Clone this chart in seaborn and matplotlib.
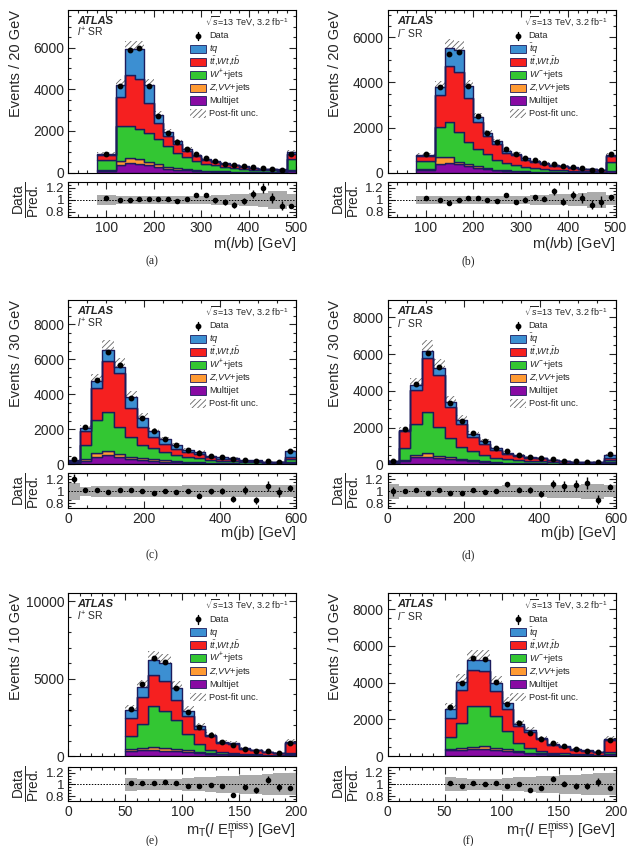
import numpy as np
import pandas as pd
import matplotlib
matplotlib.use("Agg")
import matplotlib.pyplot as plt
from matplotlib.patches import Rectangle
from matplotlib.ticker import AutoMinorLocator, FixedLocator
import seaborn as sns

# ---------------- data ----------------
# (a) l+ SR, m(lvb), 20 GeV bins (first bin 80-120)
a_edges = [80, 120, 140, 160, 180, 200, 220, 240, 260, 280, 300,
           320, 340, 360, 380, 400, 420, 440, 460, 480, 500]
a_multijet = [90, 370, 450, 420, 370, 280, 200, 150, 110, 80, 60, 50, 40, 30, 25, 20, 15, 14, 12, 70]
a_zvv = [40, 190, 240, 220, 160, 120, 80, 60, 45, 35, 30, 25, 20, 15, 12, 10, 8, 8, 7, 40]
a_wjets = [480, 1700, 1570, 1470, 1360, 1200, 1000, 750, 580, 440, 340, 290, 230, 200, 160, 120, 90, 88, 78, 540]
a_ttbar = [250, 1390, 2400, 2370, 1470, 780, 480, 420, 320, 230, 190, 170, 135, 115, 95, 72, 54, 52, 46, 270]
a_tq = [40, 560, 1260, 1440, 850, 390, 190, 120, 85, 65, 50, 45, 35, 30, 23, 18, 13, 13, 12, 60]
a_data = [900, 4150, 5880, 5980, 4180, 2740, 1920, 1470, 1150, 920, 720, 580, 440, 360, 310, 260, 210, 180, 140, 880]
a_ratio = [1.03, 0.99, 0.99, 1.01, 1.01, 1.01, 1.01, 0.98, 1.01, 1.08, 1.08, 0.99, 0.96, 0.92, 0.98, 1.10, 1.19, 1.03, 0.90, 0.89]
a_unc = [0.08, 0.07, 0.07, 0.07, 0.07, 0.07, 0.07, 0.07, 0.07, 0.07, 0.07, 0.08, 0.08, 0.09, 0.10, 0.11, 0.12, 0.15, 0.15, 0.10]

# (b) l- SR, m(lvb)
b_edges = a_edges
b_multijet = [120, 400, 430, 370, 280, 220, 150, 110, 80, 60, 45, 40, 35, 28, 24, 20, 16, 13, 10, 60]
b_zvv = [40, 300, 270, 100, 100, 60, 40, 30, 25, 20, 15, 12, 10, 8, 7, 6, 5, 4, 4, 20]
b_wjets = [360, 1330, 1550, 1330, 980, 790, 625, 440, 340, 275, 190, 150, 125, 100, 90, 70, 55, 47, 38, 400]
b_ttbar = [220, 1410, 2450, 2640, 1930, 1180, 800, 680, 440, 415, 330, 280, 235, 170, 155, 120, 94, 79, 63, 240]
b_tq = [60, 340, 810, 1000, 540, 230, 145, 130, 95, 75, 60, 48, 40, 29, 24, 19, 15, 12, 10, 70]
b_data = [815, 3780, 5240, 5360, 3850, 2530, 1760, 1380, 1050, 820, 640, 550, 450, 380, 290, 250, 190, 140, 120, 815]
b_ratio = [1.03, 1.00, 0.95, 1.00, 1.03, 1.03, 1.00, 0.98, 1.08, 0.97, 1.00, 1.04, 1.02, 1.14, 0.97, 1.08, 1.03, 0.92, 0.97, 1.04]
b_unc = [0.07, 0.07, 0.07, 0.07, 0.07, 0.07, 0.07, 0.07, 0.07, 0.07, 0.07, 0.08, 0.08, 0.09, 0.09, 0.10, 0.11, 0.13, 0.13, 0.08]

# (c) l+ SR, m(jb), 30 GeV bins
c_edges = [0, 30, 60, 90, 120, 150, 180, 210, 240, 270, 300,
           330, 360, 390, 420, 450, 480, 510, 540, 570, 600]
c_multijet = [60, 200, 440, 530, 400, 290, 250, 190, 160, 120, 90, 80, 55, 45, 40, 28, 25, 18, 17, 90]
c_zvv = [10, 80, 230, 230, 170, 150, 90, 100, 70, 50, 40, 35, 25, 20, 15, 12, 10, 7, 7, 30]
c_wjets = [80, 820, 1860, 2250, 1580, 1140, 760, 620, 470, 370, 290, 250, 180, 145, 130, 90, 85, 57, 55, 170]
c_ttbar = [50, 800, 1810, 2910, 3050, 1620, 1050, 670, 470, 360, 260, 225, 150, 120, 105, 72, 65, 45, 44, 150]
c_tq = [40, 200, 420, 610, 380, 630, 520, 320, 270, 200, 150, 130, 90, 70, 65, 43, 40, 28, 27, 300]
c_data = [290, 2110, 4800, 6420, 5660, 3810, 2630, 1900, 1430, 1090, 840, 670, 500, 400, 310, 250, 190, 170, 150, 780]
c_ratio = [1.21, 1.03, 1.02, 0.99, 1.02, 1.03, 1.00, 0.98, 1.01, 0.99, 1.01, 0.93, 1.00, 1.00, 0.87, 1.03, 0.85, 1.09, 0.99, 1.06]
c_unc = [0.14, 0.08, 0.09, 0.09, 0.09, 0.09, 0.09, 0.09, 0.09, 0.09, 0.10, 0.10, 0.10, 0.10, 0.10, 0.10, 0.10, 0.10, 0.10, 0.10]

# (d) l- SR, m(jb)
d_edges = c_edges
d_multijet = [50, 180, 380, 420, 350, 290, 240, 160, 120, 85, 60, 50, 40, 35, 24, 18, 15, 13, 15, 90]
d_zvv = [10, 70, 150, 180, 120, 90, 50, 50, 40, 30, 20, 17, 14, 12, 8, 6, 5, 4, 5, 20]
d_wjets = [70, 640, 1680, 2250, 1560, 1060, 640, 490, 370, 255, 185, 150, 120, 106, 70, 54, 44, 37, 44, 130]
d_ttbar = [40, 920, 1830, 2960, 2830, 1680, 1280, 770, 600, 410, 295, 238, 188, 170, 110, 85, 68, 58, 68, 130]
d_tq = [30, 70, 270, 380, 400, 280, 230, 180, 140, 100, 75, 60, 48, 42, 28, 22, 18, 15, 18, 160]
d_data = [200, 1900, 4400, 6050, 5280, 3340, 2370, 1700, 1260, 880, 710, 530, 420, 350, 270, 200, 165, 145, 130, 570]
d_ratio = [1.00, 1.00, 1.03, 0.98, 1.02, 0.98, 0.97, 1.03, 0.99, 1.00, 1.12, 1.03, 1.03, 0.96, 1.12, 1.09, 1.10, 1.14, 0.86, 1.08]
d_unc = [0.12, 0.09, 0.09, 0.09, 0.09, 0.09, 0.09, 0.09, 0.09, 0.09, 0.10, 0.10, 0.10, 0.10, 0.11, 0.11, 0.11, 0.12, 0.13, 0.10]

# (e) l+ SR, mT(l Etmiss), 10 GeV bins
e_edges = [50, 60, 70, 80, 90, 100, 110, 120, 130, 140, 150, 160, 170, 180, 190, 200]
e_multijet = [320, 370, 370, 340, 300, 260, 200, 140, 100, 80, 55, 45, 32, 25, 80]
e_zvv = [150, 170, 210, 200, 170, 110, 60, 40, 25, 20, 12, 10, 8, 6, 20]
e_wjets = [800, 1550, 2620, 2360, 1830, 1030, 500, 185, 135, 110, 70, 55, 40, 32, 90]
e_ttbar = [1200, 1720, 2000, 1920, 1330, 1160, 970, 900, 590, 580, 320, 245, 180, 145, 680]
e_tq = [480, 640, 970, 1180, 760, 340, 180, 105, 70, 60, 38, 30, 20, 17, 55]
e_data = [3050, 4620, 6320, 6090, 4390, 2840, 1870, 1355, 900, 690, 470, 345, 300, 215, 860]
e_ratio = [1.02, 1.03, 1.02, 1.04, 1.02, 0.98, 0.98, 0.99, 0.98, 0.81, 0.95, 0.90, 1.08, 0.95, 0.93]
e_unc = [0.11, 0.10, 0.10, 0.10, 0.10, 0.11, 0.12, 0.13, 0.14, 0.15, 0.16, 0.17, 0.18, 0.19, 0.19]

# (f) l- SR, mT(l Etmiss)
f_edges = e_edges
f_multijet = [330, 330, 360, 360, 330, 270, 200, 150, 110, 75, 60, 42, 34, 26, 90]
f_zvv = [70, 100, 150, 180, 120, 130, 60, 40, 30, 18, 14, 10, 8, 6, 20]
f_wjets = [650, 1380, 2200, 2210, 1720, 960, 450, 220, 140, 90, 70, 50, 40, 30, 110]
f_ttbar = [1030, 1770, 1990, 1870, 1360, 1210, 900, 880, 620, 420, 350, 235, 195, 147, 630]
f_tq = [500, 460, 550, 630, 430, 330, 160, 120, 80, 52, 41, 30, 23, 17, 65]
f_data = [2660, 3960, 5360, 5300, 4040, 2840, 1790, 1270, 920, 720, 540, 360, 290, 235, 850]
f_ratio = [1.03, 0.98, 1.02, 1.01, 1.02, 0.98, 1.01, 0.90, 0.94, 1.10, 1.01, 0.98, 0.97, 1.04, 0.93]
f_unc = [0.12, 0.11, 0.10, 0.10, 0.10, 0.11, 0.12, 0.13, 0.14, 0.15, 0.16, 0.17, 0.18, 0.19, 0.19]

# ---------------- style ----------------
sns.set_style("ticks")
plt.rcParams["font.family"] = ["Liberation Sans", "DejaVu Sans"]
plt.rcParams["mathtext.fontset"] = "custom"
plt.rcParams["mathtext.rm"] = "Liberation Sans"
plt.rcParams["mathtext.it"] = "Liberation Sans:italic"
plt.rcParams["mathtext.bf"] = "Liberation Sans:bold"
plt.rcParams["hatch.linewidth"] = 0.6

PROCS = ["tq", "ttbar", "wjets", "zvv", "multijet"]  # top -> bottom of the stack
COLORS = {"tq": "#3c8fd2", "ttbar": "#f52020", "wjets": "#33c633",
          "zvv": "#ff9a33", "multijet": "#880aa3"}
OUTLINE = "#1c1c5c"
HATCH_COL = "#666666"

W, H = 635, 846
COL_X = [(68.3, 296.0), (387.7, 615.5)]
ROW_Y = [(10.0, 172.7, 181.7, 216.7), (300.0, 464.3, 473.3, 508.3), (593.3, 756.0, 767.0, 800.7)]
XLABEL_TOP = [235, 526, 819]
CAPTION_Y = [261, 555, 841]
CAPTION_X = [152, 468]

LABELS_PLUS = ["Data", r"$tq$", r"$t\bar{t}$,$Wt$,$t\bar{b}$", r"$W^{+}$+jets",
               r"$Z$,$VV$+jets", "Multijet", "Post-fit unc."]
LABELS_MINUS = ["Data", r"$\bar{t}q$", r"$t\bar{t}$,$Wt$,$\bar{t}b$", r"$W^{-}$+jets",
                r"$Z$,$VV$+jets", "Multijet", "Post-fit unc."]

MLVB = r"m($l\nu$b) [GeV]"
MJB = "m(jb) [GeV]"
MT = r"m$_{\mathrm{T}}$($l$ E$_{\mathrm{T}}^{\mathrm{miss}}$) [GeV]"

panels = [
    dict(tag="(a)", sign="+", edges=a_edges, stack=[a_tq, a_ttbar, a_wjets, a_zvv, a_multijet],
         data=a_data, ratio=a_ratio, unc=a_unc, xlim=(20, 500), ylim=(0, 7800),
         yticks=[0, 2000, 4000, 6000], xticks=[100, 200, 300, 400, 500], xminor=5, yminor=4,
         ylabel="Events / 20 GeV", xlabel=MLVB),
    dict(tag="(b)", sign="-", edges=b_edges, stack=[b_tq, b_ttbar, b_wjets, b_zvv, b_multijet],
         data=b_data, ratio=b_ratio, unc=b_unc, xlim=(20, 500), ylim=(0, 7200),
         yticks=[0, 2000, 4000, 6000], xticks=[100, 200, 300, 400, 500], xminor=5, yminor=4,
         ylabel="Events / 20 GeV", xlabel=MLVB),
    dict(tag="(c)", sign="+", edges=c_edges, stack=[c_tq, c_ttbar, c_wjets, c_zvv, c_multijet],
         data=c_data, ratio=c_ratio, unc=c_unc, xlim=(0, 600), ylim=(0, 9400),
         yticks=[0, 2000, 4000, 6000, 8000], xticks=[0, 200, 400, 600], xminor=4, yminor=4,
         ylabel="Events / 30 GeV", xlabel=MJB),
    dict(tag="(d)", sign="-", edges=d_edges, stack=[d_tq, d_ttbar, d_wjets, d_zvv, d_multijet],
         data=d_data, ratio=d_ratio, unc=d_unc, xlim=(0, 600), ylim=(0, 8950),
         yticks=[0, 2000, 4000, 6000, 8000], xticks=[0, 200, 400, 600], xminor=4, yminor=4,
         ylabel="Events / 30 GeV", xlabel=MJB),
    dict(tag="(e)", sign="+", edges=e_edges, stack=[e_tq, e_ttbar, e_wjets, e_zvv, e_multijet],
         data=e_data, ratio=e_ratio, unc=e_unc, xlim=(0, 200), ylim=(0, 10500),
         yticks=[0, 5000, 10000], xticks=[0, 50, 100, 150, 200], xminor=5, yminor=5,
         ylabel="Events / 10 GeV", xlabel=MT),
    dict(tag="(f)", sign="-", edges=f_edges, stack=[f_tq, f_ttbar, f_wjets, f_zvv, f_multijet],
         data=f_data, ratio=f_ratio, unc=f_unc, xlim=(0, 200), ylim=(0, 8870),
         yticks=[0, 2000, 4000, 6000, 8000], xticks=[0, 50, 100, 150, 200], xminor=5, yminor=4,
         ylabel="Events / 10 GeV", xlabel=MT),
]


def style_axis(a, xminor, yminor):
    a.tick_params(which="both", direction="in", top=True, right=True, width=0.8, labelsize=10, pad=3)
    a.tick_params(which="major", length=5)
    a.tick_params(which="minor", length=2.5)
    a.xaxis.set_minor_locator(AutoMinorLocator(xminor))
    a.yaxis.set_minor_locator(AutoMinorLocator(yminor))
    for s in a.spines.values():
        s.set_linewidth(0.8)
        s.set_color("black")


def draw_legend(ax, labels, width_px, height_px):
    # ROOT-style legend: fixed row pitch, box handles on the left
    pitch = 12.95 / height_px
    y_first = 1 - 26.0 / height_px
    bx0 = 0.535
    bw = 16.0 / width_px
    bh = 8.5 / height_px
    tx = bx0 + bw + 3.0 / width_px
    tr = ax.transAxes
    for i, lab in enumerate(labels):
        y = y_first - i * pitch
        if i == 0:
            ax.plot([bx0 + bw / 2], [y], "o", color="black", ms=3.2, transform=tr, clip_on=False)
            ax.plot([bx0 + bw / 2] * 2, [y - bh / 2, y + bh / 2], color="black", lw=1,
                    transform=tr, clip_on=False)
        elif i <= len(PROCS):
            ax.add_patch(Rectangle((bx0, y - bh / 2), bw, bh, transform=tr,
                                   facecolor=COLORS[PROCS[i - 1]], edgecolor=OUTLINE, lw=0.6))
        else:
            ax.add_patch(Rectangle((bx0, y - bh / 2), bw, bh, transform=tr, facecolor="none",
                                   edgecolor=HATCH_COL, hatch="//////", lw=0))
        ax.text(tx, y, lab, transform=tr, fontsize=6.7, va="center", ha="left")


def draw_panel(fig, p, col, row):
    x0, x1 = COL_X[col]
    top, bot, rtop, rbot = ROW_Y[row]
    ax = fig.add_axes([x0 / W, 1 - bot / H, (x1 - x0) / W, (bot - top) / H])
    rx = fig.add_axes([x0 / W, 1 - rbot / H, (x1 - x0) / W, (rbot - rtop) / H])

    edges = np.asarray(p["edges"], dtype=float)
    centers = 0.5 * (edges[1:] + edges[:-1])
    stack = np.asarray(p["stack"], dtype=float)
    df = pd.DataFrame([{"x": c, "w": v, "proc": name}
                       for name, vals in zip(PROCS, stack) for c, v in zip(centers, vals)])
    sns.histplot(data=df, x="x", weights="w", hue="proc", hue_order=PROCS, palette=COLORS,
                 bins=list(p["edges"]), multiple="stack", element="step", alpha=1,
                 edgecolor=OUTLINE, linewidth=1.0, legend=False, ax=ax)

    total = stack.sum(axis=0)
    unc = np.asarray(p["unc"])
    ax.stairs(total * (1 + unc), edges, baseline=total * (1 - unc), fill=True,
              facecolor="none", edgecolor=HATCH_COL, hatch="//////", linewidth=0, zorder=0.5)
    data = np.asarray(p["data"], dtype=float)
    ax.errorbar(centers, data, yerr=np.sqrt(data), fmt="o", color="black",
                ms=3.2, elinewidth=1, capsize=0, zorder=5)

    ax.set_xlim(*p["xlim"])
    ax.set_ylim(*p["ylim"])
    ax.yaxis.set_major_locator(FixedLocator(p["yticks"]))
    style_axis(ax, p["xminor"], p["yminor"])
    ax.tick_params(labelbottom=False)
    ax.set_xlabel("")
    ax.set_ylabel(p["ylabel"], fontsize=10.5, loc="top")
    ax.yaxis.set_label_coords(-0.2, 1.0)

    # text block
    ax.text(0.04, 0.935, "ATLAS", transform=ax.transAxes, fontsize=8, weight="bold",
            style="italic", va="center")
    ax.text(0.04, 0.86, r"$l^{%s}$ SR" % p["sign"], transform=ax.transAxes, fontsize=7.5, va="center")
    ax.text(0.965, 0.935, r"$\sqrt{s}$=13 TeV, 3.2 fb$^{-1}$", transform=ax.transAxes,
            fontsize=6.5, ha="right", va="center")

    labels = LABELS_PLUS if p["sign"] == "+" else LABELS_MINUS
    draw_legend(ax, labels, x1 - x0, bot - top)

    # ratio panel
    rx.stairs(1 + unc, edges, baseline=1 - unc, fill=True, color="#ababab", linewidth=0)
    rx.axhline(1, color="black", ls=(0, (1.5, 1.5)), lw=0.7)
    ratio = np.asarray(p["ratio"])
    rx.errorbar(centers, ratio, yerr=ratio / np.sqrt(data), fmt="o", color="black",
                ms=3.0, elinewidth=1, capsize=0, zorder=5)
    rx.set_xlim(*p["xlim"])
    rx.set_ylim(0.72, 1.3)
    rx.xaxis.set_major_locator(FixedLocator(p["xticks"]))
    rx.yaxis.set_major_locator(FixedLocator([0.8, 1.0, 1.2]))
    rx.set_yticklabels(["0.8", "1", "1.2"])
    style_axis(rx, p["xminor"], 4)
    rx.tick_params(axis="y", labelsize=9.5)
    rx.set_ylabel(r"$\frac{\mathrm{Data}}{\mathrm{Pred.}}$", fontsize=14)
    rx.yaxis.set_label_coords(-0.115, 0.5)
    rx.set_xlabel(p["xlabel"], fontsize=10.5, loc="right")
    label_y = -(XLABEL_TOP[row] - rbot) / (rbot - rtop)
    rx.xaxis.set_label_coords(1.0, label_y)

    fig.text(CAPTION_X[col] / W, 1 - CAPTION_Y[row] / H, p["tag"],
             family="Liberation Serif", fontsize=8.5, ha="center", va="center")


fig = plt.figure(figsize=(W / 100, H / 100), dpi=100)
fig.patch.set_facecolor("white")
for i, p in enumerate(panels):
    draw_panel(fig, p, i % 2, i // 2)

fig.savefig("out.png", dpi=100, facecolor="white")
